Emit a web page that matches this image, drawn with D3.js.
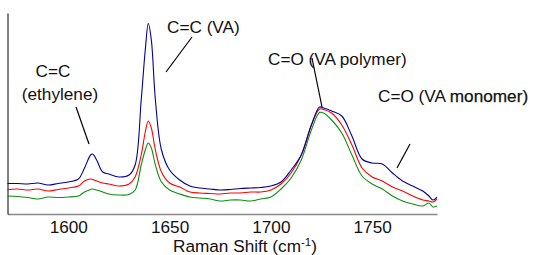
<!DOCTYPE html>
<html>
<head>
<meta charset="utf-8">
<script src="https://cdn.jsdelivr.net/npm/d3@7"></script>
<style>
  body { margin: 0; background: #fff; }
  text { font-family: Arial, "Liberation Sans", sans-serif; }
</style>
</head>
<body>
<script>
// raman shift (cm-1) sample points
var shift = [1570, 1575, 1580, 1585, 1590, 1595, 1600, 1605, 1608, 1611, 1612, 1614, 1617, 1620, 1625,
  1630, 1633, 1636, 1638, 1639.5, 1641, 1643, 1646, 1650, 1655, 1660, 1665, 1670, 1675, 1680, 1685,
  1690, 1695, 1700, 1705, 1710, 1715, 1720, 1724, 1726, 1730, 1735, 1740, 1745, 1750, 1755, 1760,
  1765, 1770, 1775, 1778, 1780, 1782];

// intensities (arbitrary units)
var blueSpec = [30.5, 30.5, 30, 31, 29, 30.5, 32, 35, 46, 59, 60, 54, 42, 40, 37,
  39, 49, 114, 164, 190.5, 174, 114, 64, 44, 34, 28, 26, 25, 24, 24.5, 25.5,
  26, 26.5, 28, 32, 44, 59, 89, 107, 106, 103, 98, 78, 55, 51, 50, 41,
  33, 28, 23, 18, 14, 17];
var redSpec = [24.5, 25, 24, 25, 23, 24.5, 26, 28, 33, 35, 34.5, 33, 31, 30, 28,
  30, 37, 59, 82, 93, 86, 64, 42, 31, 27, 22, 21, 20.5, 20, 21, 21,
  22, 22, 24, 30, 41, 59, 89, 105, 104.5, 101, 89, 69, 46, 37, 33, 27,
  23, 18, 14, 13, 12, 15];
var greenSpec = [18, 17.5, 16.5, 15, 17, 16.5, 17, 18, 22, 24.5, 25, 24, 22, 20, 19,
  19.5, 24, 49, 64, 71, 66, 49, 32, 24, 20, 17, 16, 15, 13, 14, 14,
  13, 15, 17, 25, 36, 54, 84, 101.5, 101, 94, 81, 59, 38, 30, 25, 18,
  13, 10, 8, 11, 7, 8];

var tickVals = [1600, 1650, 1700, 1750];

var w = 535, h = 255, fs = 17.2;

var svg = d3.select("body").append("svg")
  .attr("width", w)
  .attr("height", h);

var x = d3.scaleLinear().domain([1570, 1782]).range([7.5, 437]);
var y = d3.scaleLinear().domain([0, 201]).range([214, 13]);

// axes
svg.append("g")
  .attr("transform", "translate(0,214)")
  .call(d3.axisBottom(x).tickValues(tickVals).tickFormat(d3.format("d")).tickSize(0).tickPadding(7))
  .call(function(g){
    g.select(".domain").attr("stroke", "#888").attr("stroke-width", 1.5);
    g.selectAll("text").attr("font-size", fs).attr("fill", "#111")
      .style("font-family", "Arial, 'Liberation Sans', sans-serif");
  });

svg.append("g")
  .attr("transform", "translate(7.5,0)")
  .call(d3.axisLeft(y).tickValues([]).tickSizeOuter(0))
  .select(".domain").attr("stroke", "#000").attr("stroke-width", 1);

var title = svg.append("text")
  .attr("x", 245)
  .attr("y", 252)
  .attr("text-anchor", "middle")
  .attr("font-size", fs)
  .attr("fill", "#111")
  .text("Raman Shift (cm");
title.append("tspan").attr("font-size", 11.5).attr("dy", -6).text("-1");
title.append("tspan").attr("dy", 6).text(")");

// spectra
var line = d3.line()
  .x(function(d, i){ return x(shift[i]); })
  .y(function(d){ return y(d); })
  .curve(d3.curveCatmullRom.alpha(0.5));

var series = [
  {vals: greenSpec, col: "#0a900a"},
  {vals: redSpec, col: "#ff0000"},
  {vals: blueSpec, col: "#000098"}
];

series.forEach(function(s){
  svg.append("path")
    .attr("d", line(s.vals))
    .attr("fill", "none")
    .attr("stroke", s.col)
    .attr("stroke-width", 1.1);
});

// labels and leader lines
function addLabel(svg, tx, ty, txt, anchor){
  return svg.append("text")
    .attr("x", tx)
    .attr("y", ty)
    .attr("text-anchor", anchor || "start")
    .attr("font-size", fs)
    .attr("fill", "#111")
    .text(txt);
}
function addLeader(svg, x1, y1, x2, y2){
  svg.append("line")
    .attr("x1", x1).attr("y1", y1)
    .attr("x2", x2).attr("y2", y2)
    .attr("stroke", "#000")
    .attr("stroke-width", 1.2);
}

addLabel(svg, 53, 77, "C=C", "middle");
addLabel(svg, 60, 100, "(ethylene)", "middle");
addLeader(svg, 76, 107, 89, 144);

addLabel(svg, 167, 33, "C=C (VA)");
addLeader(svg, 192, 37, 166, 72);

addLabel(svg, 268, 65, "C=O (VA polymer)");
addLeader(svg, 312, 58, 322, 107);

var mono = addLabel(svg, 378, 102, "C=O (VA ");
mono.append("tspan").attr("stroke", "#111").attr("stroke-width", 0.25).text("monomer)");
addLeader(svg, 410, 144, 397, 168);
</script>
</body>
</html>
